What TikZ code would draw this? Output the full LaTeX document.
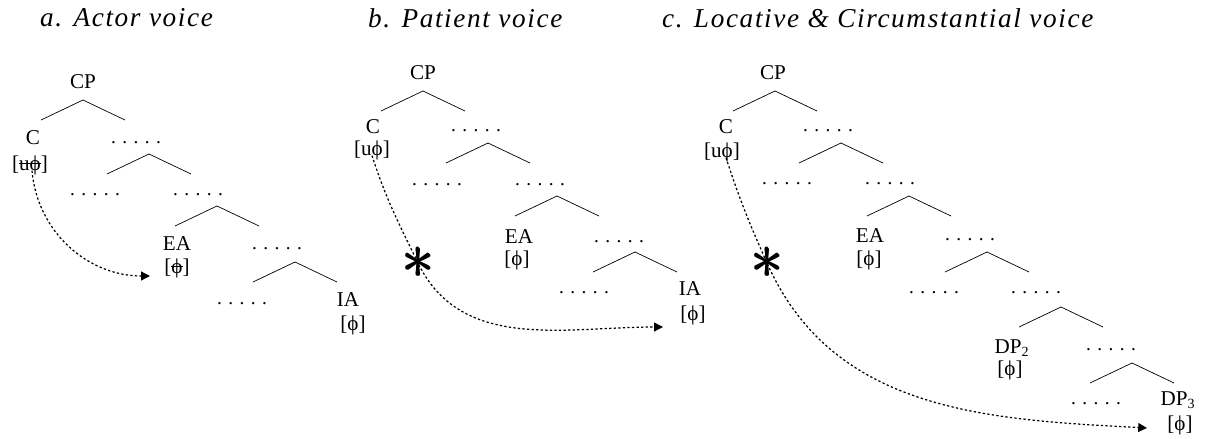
\documentclass[tikz,border=0pt]{standalone}
\usepackage{fontspec}
\setmainfont{Liberation Serif}
\newfontfamily\titlefont[LetterSpace=6]{Liberation Serif}
\newcommand{\strk}[1]{\setbox0\hbox{#1}\rlap{\rule[0.28em]{\wd0}{0.45pt}}\box0}
\newcommand{\fatstar}{\scalebox{1.5}{\rlap{$\ast$}\rlap{\kern0.4pt$\ast$}\raisebox{0.3pt}{\kern0.2pt$\ast$}}}
\usetikzlibrary{positioning, calc, arrows.meta}

\begin{document}
\begin{tikzpicture}[x=0.02cm, y=-0.02cm,
    title/.style={font=\titlefont\itshape\fontsize{15.5}{18}\selectfont, anchor=west},
    lab/.style={font=\fontsize{12}{14}\selectfont, inner sep=1pt},
    dots/.style={font=\fontsize{11}{13}\selectfont, inner sep=1pt},
    starmark/.style={font=\fontsize{24.88}{26}\selectfont, inner sep=0pt},
    agree/.style={line width=0.7pt, dash pattern=on 1.3pt off 1.3pt,
      -{Triangle[length=5pt, width=5pt]}}]

      \useasboundingbox (0,0) rectangle (1206,439);

      % Titles.
      \node[title] (ta) at (34,18) {a. Actor voice};
      \node[title] (tb) at (362,18) {b. Patient voice};
      \node[title] (tc) at (656,18) {c. Locative \& Circumstantial voice};

      % Tree a.
      \foreach \x/\y in {83/100, 149/154, 217/206, 295/262}
        \draw ({\x-42},{\y+20}) -- (\x,\y) -- ({\x+42},{\y+20});
      \node[lab] (acp) at (83,82) {CP};
      \node[lab] (ac) at (33,138) {C};
      \node[lab] (acf) at (30,165) {[\strk{uϕ}]};
      \node[dots] (ad1) at (136,143) {. . . . .};
      \node[dots] (ad2) at (95,195) {. . . . .};
      \node[dots] (ad3) at (198,195) {. . . . .};
      \node[lab] (aea) at (177,244) {EA};
      \node[lab] (aeaf) at (177,268) {[\strk{ϕ}]};
      \node[dots] (ad4) at (277,249) {. . . . .};
      \node[dots] (ad5) at (242,304) {. . . . .};
      \node[lab] (aia) at (348,300) {IA};
      \node[lab] (aiaf) at (353,325) {[ϕ]};
      \coordinate (atip) at (150,276);
      \draw[agree] ($(acf.south)+(2,-6)$) to[out=-85, in=180] (atip);

      % Tree b.
      \foreach \x/\y in {423/91, 488/143, 557/196, 635/252}
        \draw ({\x-42},{\y+20}) -- (\x,\y) -- ({\x+42},{\y+20});
      \node[lab] (bcp) at (423,73) {CP};
      \node[lab] (bc) at (373,127) {C};
      \node[lab] (bcf) at (372,150) {[uϕ]};
      \node[dots] (bd1) at (476,131) {. . . . .};
      \node[dots] (bd2) at (437,185) {. . . . .};
      \node[dots] (bd3) at (540,185) {. . . . .};
      \node[lab] (bea) at (519,237) {EA};
      \node[lab] (beaf) at (517,260) {[ϕ]};
      \node[dots] (bd4) at (619,242) {. . . . .};
      \node[dots] (bd5) at (584,293) {. . . . .};
      \node[lab] (bia) at (690,289) {IA};
      \node[lab] (biaf) at (693,315) {[ϕ]};
      \node[starmark] (bstar) at (418,263) {\fatstar};
      \coordinate (btip) at (663,327);
      \draw[agree] ($(bcf.south)+(0,-6)$) to[out=-72, in=116] (bstar.center)
        to[out=-64, in=180] (btip);

      % Tree c.
      \foreach \x/\y in {775/91, 841/143, 909/196, 987/252, 1061/307, 1132/363}
        \draw ({\x-42},{\y+20}) -- (\x,\y) -- ({\x+42},{\y+20});
      \node[lab] (ccp) at (773,73) {CP};
      \node[lab] (cc) at (726,127) {C};
      \node[lab] (ccf) at (722,152) {[uϕ]};
      \node[dots] (cd1) at (828,131) {. . . . .};
      \node[dots] (cd2) at (787,184) {. . . . .};
      \node[dots] (cd3) at (890,184) {. . . . .};
      \node[lab] (cea) at (870,236) {EA};
      \node[lab] (ceaf) at (869,260) {[ϕ]};
      \node[dots] (cd4) at (970,240) {. . . . .};
      \node[dots] (cd5) at (934,293) {. . . . .};
      \node[dots] (cd6) at (1036,293) {. . . . .};
      \node[lab] (cdp2) at (1012,348) {DP\textsubscript{2}};
      \node[lab] (cdp2f) at (1010,370) {[ϕ]};
      \node[dots] (cd7) at (1111,350) {. . . . .};
      \node[dots] (cd8) at (1096,404) {. . . . .};
      \node[lab] (cdp3) at (1178,400) {DP\textsubscript{3}};
      \node[lab] (cdp3f) at (1180,425) {[ϕ]};
      \node[starmark] (cstar) at (767,263) {\fatstar};
      \coordinate (ctip) at (1147,428);
      \draw[agree] ($(ccf.south)+(4,-6)$) to[out=-72, in=114] (cstar.center)
        to[out=-66, in=177] (ctip);
    \end{tikzpicture}
\end{document}
